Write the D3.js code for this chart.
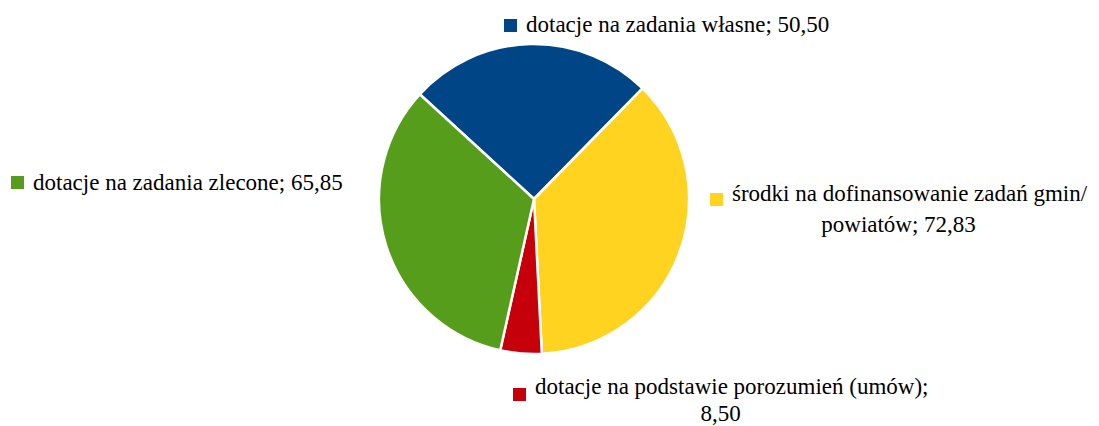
<!DOCTYPE html>
<html>
<head>
<meta charset="utf-8">
<script src="https://cdn.jsdelivr.net/npm/d3@7"></script>
<style>
  body { margin: 0; background: #fff; }
</style>
</head>
<body>
<div id="chart"></div>
<script>
// Dane wykresu
var categories = [
    "dotacje na zadania własne",
    "środki na dofinansowanie zadań gmin/ powiatów",
    "dotacje na podstawie porozumień (umów)",
    "dotacje na zadania zlecone"
];
var values = [50.50, 72.83, 8.50, 65.85];
var valueLabels = ["50,50", "72,83", "8,50", "65,85"];
var colors = ["#004586", "#ffd320", "#c5000b", "#579d1c"];

// Rozmieszczenie etykiet (x lewej krawędzi kwadratu, y linii bazowej, łamanie wierszy)
var labelLayout = [
    { x: 504, y: 32, sqDy: -13, lineH: 0, lines: ["dotacje na zadania własne; 50,50"] },
    { x: 710, y: 201, sqDy: -8, lineH: 31, lines: ["środki na dofinansowanie zadań gmin/", "powiatów; 72,83"] },
    { x: 513, y: 394, sqDy: -6, lineH: 27, lines: ["dotacje na podstawie porozumień (umów);", "8,50"] },
    { x: 11, y: 190, sqDy: -14, lineH: 0, lines: ["dotacje na zadania zlecone; 65,85"] }
];

var width = 1099, height = 426;
var cx = 534, cy = 199, radius = 155;

var svg = d3.select("#chart").append("svg")
    .attr("width", width)
    .attr("height", height);

var pie = d3.pie()
    .sort(null)
    .startAngle(-47.5 * Math.PI / 180)
    .endAngle((360 - 47.5) * Math.PI / 180);

var arc = d3.arc().innerRadius(0).outerRadius(radius);

var g = svg.append("g").attr("transform", `translate(${cx},${cy})`);

g.selectAll("path")
    .data(pie(values))
    .join("path")
    .attr("d", arc)
    .attr("fill", (d, i) => colors[i])
    .attr("stroke", "#fff")
    .attr("stroke-width", 2.5)
    .attr("stroke-linejoin", "round");

// Etykiety z kwadratami legendy
var fontSize = 23;
var sq = 13;
var gap = 9;

function addText(sel, x, y, str) {
    return sel.append("text")
        .attr("x", x)
        .attr("y", y)
        .attr("font-family", "Liberation Serif")
        .attr("font-size", fontSize)
        .attr("fill", "#000")
        .text(str);
}

labelLayout.forEach(function (lay, i) {
    var lg = svg.append("g");
    var first = addText(lg, lay.x + sq + gap, lay.y, lay.lines[0]);
    var w = first.node().getComputedTextLength();
    var blockCenter = lay.x + (sq + gap + w) / 2;
    lg.append("rect")
        .attr("x", lay.x)
        .attr("y", lay.y + lay.sqDy)
        .attr("width", sq)
        .attr("height", sq)
        .attr("fill", colors[i]);
    for (var k = 1; k < lay.lines.length; k++) {
        addText(lg, blockCenter, lay.y + k * lay.lineH, lay.lines[k])
            .attr("text-anchor", "middle");
    }
});
</script>
</body>
</html>
